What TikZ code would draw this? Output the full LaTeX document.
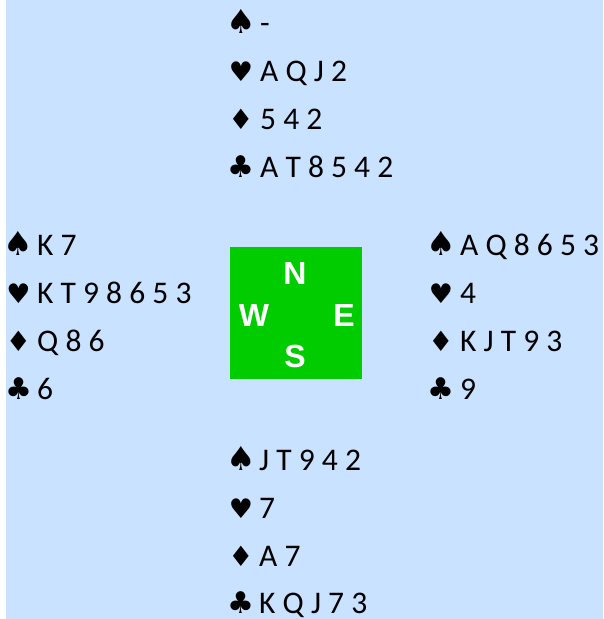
\documentclass[tikz,border=0pt]{standalone}
\usepackage{fontspec}
\setmainfont{Carlito}
\newfontfamily\suitfont{DejaVu Sans}
\newfontfamily\compassfont{Liberation Sans}
\definecolor{bg}{RGB}{200,226,255}
\definecolor{compass}{RGB}{0,204,0}
\newcommand\spd{{\fontsize{33}{33}\selectfont ♠}}
\newcommand\hrt{{\fontsize{27}{27}\selectfont ♥}}
\newcommand\dia{{\fontsize{28}{28}\selectfont ♦}}
\newcommand\clb{{\fontsize{30}{30}\selectfont ♣}}
\tikzset{
  cards/.style={anchor=base west, inner sep=0pt, font=\fontsize{31.5}{31.5}\selectfont, text=black},
  suitsym/.style={anchor=base, inner sep=0pt, font=\suitfont, text=black},
  seat/.style={anchor=base, inner sep=0pt, font=\compassfont\bfseries\fontsize{32}{32}\selectfont, text=white},
  compassbox/.style={fill=compass, draw=none, minimum size=132pt, inner sep=0pt},
}
\newcommand\handrow[6]{%
  \node[suitsym] (#1s) at (#2,#4) {#5};
  \node[cards] (#1c) at (#3,#4) {#6};}
\begin{document}
\begin{tikzpicture}[x=1pt,y=-1pt]
\useasboundingbox (0,0) rectangle (603,619);
\fill[white] (0,0) rectangle (603,619);
\fill[bg] (6,0) rectangle (603,619);
% North
\handrow{n1}{241}{260}{33}{\spd}{-}
\handrow{n2}{241}{260}{81}{\hrt}{A Q J 2}
\handrow{n3}{241}{260}{129}{\dia}{5 4 2}
\handrow{n4}{241}{260}{177}{\clb}{A T 8 5 4 2}
% West
\handrow{w1}{18.5}{37}{255}{\spd}{K 7}
\handrow{w2}{18.5}{37}{303}{\hrt}{K T 9 8 6 5 3}
\handrow{w3}{18.5}{37}{351}{\dia}{Q 8 6}
\handrow{w4}{18.5}{37}{399}{\clb}{6}
% East
\handrow{e1}{441}{460}{255}{\spd}{A Q 8 6 5 3}
\handrow{e2}{441}{460}{303}{\hrt}{4}
\handrow{e3}{441}{460}{351}{\dia}{K J T 9 3}
\handrow{e4}{441}{460}{399}{\clb}{9}
% South
\handrow{s1}{241}{259}{470}{\spd}{J T 9 4 2}
\handrow{s2}{241}{259}{518}{\hrt}{7}
\handrow{s3}{241}{259}{566}{\dia}{A 7}
\handrow{s4}{241}{259}{613}{\clb}{K Q J 7 3}
% Compass
\node[compassbox] (box) at (296,313) {};
\node[seat] (north) at (295,284.5) {N};
\node[seat] (west) at (254,326) {W};
\node[seat] (east) at (344,326) {E};
\node[seat] (south) at (295,367.5) {S};
\end{tikzpicture}
\end{document}
